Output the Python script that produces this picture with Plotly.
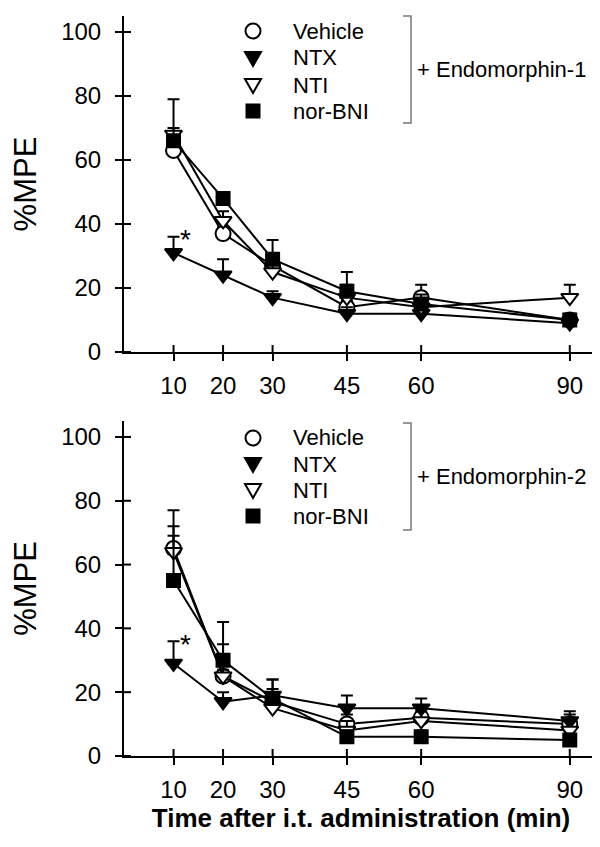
import plotly.graph_objects as go
from plotly.subplots import make_subplots

times = [10, 20, 30, 45, 60, 90]
tick_labels = ["10", "20", "30", "45", "60", "90"]
y_ticks = [0, 20, 40, 60, 80, 100]
series_names = ["Vehicle", "NTX", "NTI", "nor-BNI"]

# Endomorphin-1 (top panel)
em1_vehicle = [63, 37, 27, 14, 17, 10]
em1_ntx = [31, 24, 17, 12, 12, 9]
em1_nti = [68, 41, 25, 17, 14, 17]
em1_norbni = [66, 48, 29, 19, 15, 10]
em1_vehicle_err = [2, 2, 3, 2, 4, 2]
em1_ntx_err = [5, 5, 2, 2, 2, 2]
em1_nti_err = [2, 3, 3, 4, 2, 4]
em1_norbni_err = [13, 2, 6, 6, 3, 2]

# Endomorphin-2 (bottom panel)
em2_vehicle = [65, 25, 17, 10, 12, 10]
em2_ntx = [29, 17, 19, 15, 15, 11]
em2_nti = [64, 25, 15, 8, 11, 8]
em2_norbni = [55, 30, 18, 6, 6, 5]
em2_vehicle_err = [12, 10, 7, 3, 3, 3]
em2_ntx_err = [7, 3, 2, 4, 3, 3]
em2_nti_err = [8, 2, 3, 3, 3, 3]
em2_norbni_err = [14, 12, 6, 2, 2, 2]

FONT = "Arial, Liberation Sans, sans-serif"

styles = {
    "Vehicle": dict(symbol="circle", color="white"),
    "NTX": dict(symbol="triangle-down", color="black"),
    "NTI": dict(symbol="triangle-down", color="white"),
    "nor-BNI": dict(symbol="square", color="black"),
}

fig = make_subplots(rows=2, cols=1, vertical_spacing=0.0)

panels = [
    (1, [em1_vehicle, em1_ntx, em1_nti, em1_norbni],
     [em1_vehicle_err, em1_ntx_err, em1_nti_err, em1_norbni_err]),
    (2, [em2_vehicle, em2_ntx, em2_nti, em2_norbni],
     [em2_vehicle_err, em2_ntx_err, em2_nti_err, em2_norbni_err]),
]

for row, vals, errs in panels:
    for name, v, e in zip(series_names, vals, errs):
        st = styles[name]
        fig.add_trace(go.Scatter(
            x=times, y=v, mode="lines+markers", showlegend=False, name=name,
            line=dict(color="black", width=2),
            marker=dict(symbol=st["symbol"], size=15 if name != "nor-BNI" else 13,
                        color=st["color"], line=dict(color="black", width=2)),
            error_y=dict(type="data", array=e, arrayminus=[0] * len(e), symmetric=False,
                         thickness=2, width=6, color="black"),
        ), row=row, col=1)

axis_common = dict(showline=True, linecolor="black", linewidth=2, zeroline=False,
                   showgrid=False, ticks="outside", ticklen=7, tickwidth=2,
                   tickcolor="black", tickfont=dict(family=FONT, size=24, color="black"))

for r, dom in [(1, [0.5459, 1.0]), (2, [0.0, 0.4527])]:
    fig.update_xaxes(range=[0, 95.7], tickvals=times, ticktext=tick_labels,
                     ticklabelstandoff=4, **axis_common, row=r, col=1)
    fig.update_yaxes(range=[0, 105], tickvals=y_ticks, domain=dom,
                     ticklabelstandoff=9,
                     title=dict(text="%MPE", font=dict(family=FONT, size=31, color="black"),
                                standoff=16),
                     **axis_common, row=r, col=1)

fig.update_xaxes(title=dict(text="<b>Time after i.t. administration (min)</b>",
                            font=dict(family=FONT, size=26, color="black"), standoff=4),
                 row=2, col=1)

# inner half of the crossing ticks
for r in (1, 2):
    xr = "x" if r == 1 else f"x{r}"
    yr = "y" if r == 1 else f"y{r}"
    for t in times:
        fig.add_shape(type="line", xref=xr, yref=yr, ysizemode="pixel", yanchor=0,
                      x0=t, x1=t, y0=0, y1=7, line=dict(color="black", width=2))
    for t in y_ticks:
        fig.add_shape(type="line", xref=xr, yref=yr, xsizemode="pixel", xanchor=0,
                      y0=t, y1=t, x0=0, x1=7, line=dict(color="black", width=2))

# asterisks next to NTX at first time point
for r, v, e in [(1, em1_ntx, em1_ntx_err), (2, em2_ntx, em2_ntx_err)]:
    fig.add_annotation(x=times[0], y=v[0] + e[0], xref=f"x{'' if r == 1 else r}",
                       yref=f"y{'' if r == 1 else r}", text="*", showarrow=False,
                       xshift=12, yshift=-3, font=dict(family=FONT, size=28, color="black"))


def px_x(p):
    return (p - 116) / 474.0


def px_y(p):
    return (748 - p) / 740.0


symbol_paths = {
    "Vehicle": None,
    "NTX": "M -8 6 L 8 6 L 0 -8 Z",
    "NTI": "M -8 6 L 8 6 L 0 -8 Z",
    "nor-BNI": None,
}

# legend blocks (symbol + label), bracket and treatment label
for top, bot, rows, label in [(8, 115, [23, 50, 77, 103], "+ Endomorphin-1"),
                              (415, 522, [430, 456, 482, 508], "+ Endomorphin-2")]:
    for name, ry in zip(series_names, rows):
        st = styles[name]
        common = dict(xref="paper", yref="paper", xsizemode="pixel", ysizemode="pixel",
                      xanchor=px_x(245), yanchor=px_y(ry),
                      fillcolor=st["color"], line=dict(color="black", width=2))
        if name == "Vehicle":
            fig.add_shape(type="circle", x0=-7.5, x1=7.5, y0=-7.5, y1=7.5, **common)
        elif name == "nor-BNI":
            fig.add_shape(type="rect", x0=-6.5, x1=6.5, y0=-6.5, y1=6.5, **common)
        else:
            fig.add_shape(type="path", path=symbol_paths[name], **common)
        fig.add_annotation(x=px_x(283), y=px_y(ry), xref="paper", yref="paper",
                           text=name, showarrow=False, xanchor="left", yanchor="middle",
                           font=dict(family=FONT, size=22, color="black"))
    fig.add_shape(type="path", xref="paper", yref="paper",
                  path=(f"M {px_x(395)} {px_y(top)} L {px_x(403)} {px_y(top)} "
                        f"L {px_x(403)} {px_y(bot)} L {px_x(395)} {px_y(bot)}"),
                  line=dict(color="#777777", width=1.5))
    fig.add_annotation(x=px_x(407), y=px_y((top + bot) / 2), xref="paper", yref="paper",
                       text=label, showarrow=False, xanchor="left", yanchor="middle",
                       font=dict(family=FONT, size=22, color="black"))

fig.update_layout(
    width=600, height=847,
    margin=dict(l=116, r=10, t=8, b=99),
    plot_bgcolor="white", paper_bgcolor="white",
    font=dict(family=FONT, color="black"),
    showlegend=False,
)

fig.write_html("out.html")
